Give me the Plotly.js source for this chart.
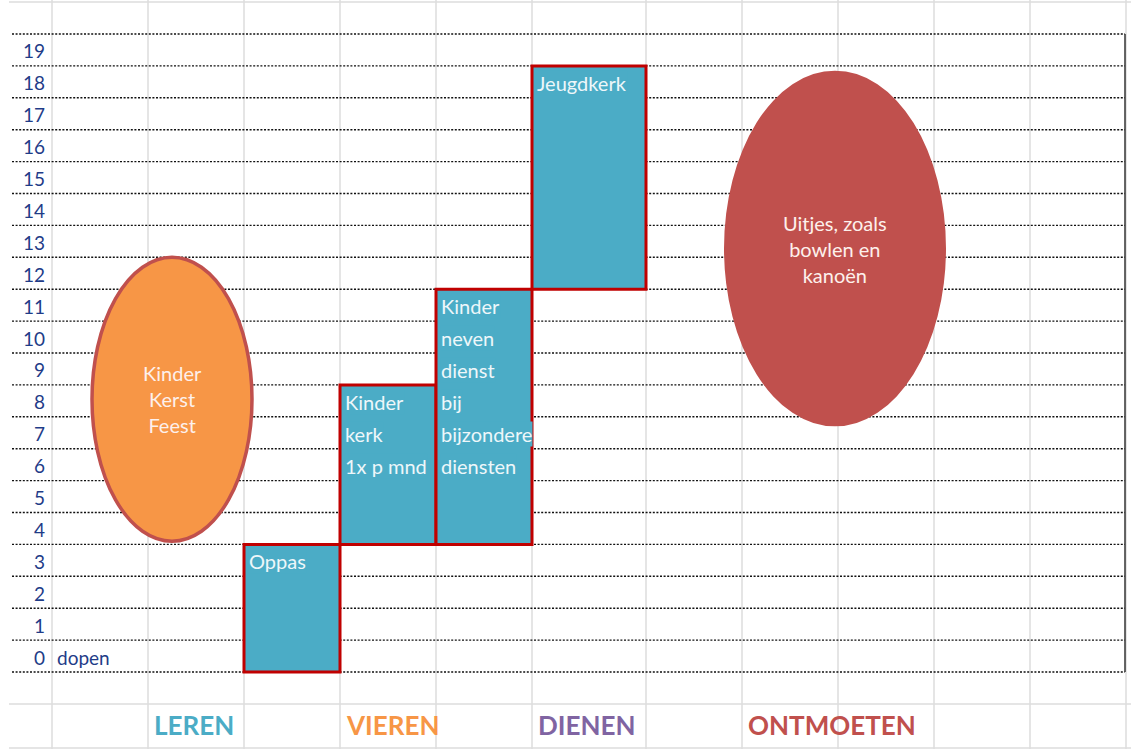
<!DOCTYPE html>
<html><head><meta charset="utf-8">
<script src="https://cdn.plot.ly/plotly-3.0.1.min.js"></script>
<style>html,body{margin:0;padding:0;background:#fff;overflow:hidden}</style>
</head><body><div id="chart" style="width:1131px;height:749px"></div>
<script>
// ---------- DATA ----------
const rowValues = [0,1,2,3,4,5,6,7,8,9,10,11,12,13,14,15,16,17,18,19];
const rowNoteValues = [0];
const rowNoteTexts = ['dopen'];

const categories = ['LEREN','VIEREN','DIENEN','ONTMOETEN'];
const categoryColumns = [2,4,6,8];

const activityLines = [
  ['Oppas'],
  ['Kinder','kerk','1x p mnd'],
  ['Kinder','neven','dienst','bij','bijzondere','diensten'],
  ['Jeugdkerk']
];
const activityColumns = [3,4,5,6];
const activityStart = [0,4,4,12];
const activityEnd = [4,9,12,19];

const eventLines = [['Kinder','Kerst','Feest'],['Uitjes, zoals','bowlen en','kanoën']];
const eventStart = [4.1, 7.7];
const eventEnd = [13.0, 18.85];

// ---------- LAYOUT / STYLE ----------
const colWidths = [52,96,96,96,96,96,114,96,96,96,96,96];
const colEdges = [0];
colWidths.forEach(w => colEdges.push(colEdges[colEdges.length-1] + w));
const eventXSpan = [[92,252],[724,946]];
const eventFill = ['#F79646','#C0504D'];
const eventLineColor = ['#C0504D','#C0504D'];
const eventLineWidth = [3.5,0];
const categoryColors = ['#4BACC6','#F79646','#8064A2','#C0504D'];
const FONT = 'Lato, "Open Sans", sans-serif';
const NAVY = '#1F3C88';
const Y_RANGE = [-2.414, 21.066];
const X_RANGE = [0, 1131];
const sheetTop = 21.0, catRowTop = -1.0, catRowBottom = -2.38;
const dotStart = 12, dotEnd = 1125;

const shapes = [];
colEdges.slice(1).forEach(x => shapes.push({type:'line', xref:'x', yref:'y', x0:x, x1:x, y0:Y_RANGE[0], y1:Y_RANGE[1], line:{color:'#DCDCDC', width:1.5}, layer:'below'}));
[sheetTop, catRowTop, catRowBottom].forEach(y => shapes.push({type:'line', xref:'x', yref:'y', x0:9, x1:1131, y0:y, y1:y, line:{color:'#DCDCDC', width:1.5}, layer:'below'}));
for (let k = 0; k <= rowValues.length; k++) {
  shapes.push({type:'line', xref:'x', yref:'y', x0:dotStart, x1:dotEnd, y0:k, y1:k, line:{color:'#111', width:1.4, dash:'2px,1.6px'}, layer:'below'});
}
shapes.push({type:'line', xref:'x', yref:'y', x0:dotEnd, x1:dotEnd, y0:0, y1:rowValues.length, line:{color:'#333', width:1.5}, layer:'below'});
eventStart.forEach((s,i) => shapes.push({type:'circle', xref:'x', yref:'y', x0:eventXSpan[i][0], x1:eventXSpan[i][1], y0:s, y1:eventEnd[i], fillcolor:eventFill[i], line:{color:eventLineColor[i], width:eventLineWidth[i]}, layer:'above'}));

const annotations = [];
rowValues.forEach(v => annotations.push({xref:'x', yref:'y', x:47, y:v+0.47, xanchor:'right', yanchor:'middle', text:String(v), showarrow:false, font:{family:FONT, size:19, color:NAVY}}));
rowNoteValues.forEach((v,i) => annotations.push({xref:'x', yref:'y', x:colEdges[1]+3, y:v+0.47, xanchor:'left', yanchor:'middle', text:rowNoteTexts[i], showarrow:false, font:{family:FONT, size:19, color:NAVY}}));
categories.forEach((c,i) => annotations.push({xref:'x', yref:'y', x:colEdges[categoryColumns[i]]+4, y:(catRowTop+catRowBottom)/2 + 0.02, xanchor:'left', yanchor:'middle', text:'<b>'+c+'</b>', showarrow:false, font:{family:FONT, size:26, color:categoryColors[i]}}));
activityLines.forEach((lines,i) => {
  lines.forEach((t,j) => annotations.push({xref:'x', yref:'y', x:colEdges[activityColumns[i]]+4, y:activityEnd[i]-1-j+0.47, xanchor:'left', yanchor:'middle', text:t, showarrow:false, bgcolor:'#4BACC6', borderpad:0, font:{family:FONT, size:20, color:'#EEF7FA'}}));
});
eventLines.forEach((lines,i) => annotations.push({xref:'x', yref:'y', x:(eventXSpan[i][0]+eventXSpan[i][1])/2, y:(eventStart[i]+eventEnd[i])/2, xanchor:'center', yanchor:'middle', text:lines.join('<br>'), showarrow:false, font:{family:FONT, size:20, color:'#FDF0EC'}}));

const boxTrace = {
  type:'bar',
  x: activityColumns.map(c => (colEdges[c]+colEdges[c+1])/2),
  width: activityColumns.map(c => colWidths[c]),
  base: activityStart,
  y: activityStart.map((s,i) => activityEnd[i]-s),
  marker:{color:'#4BACC6', line:{color:'#C00000', width:3}},
  hoverinfo:'skip', showlegend:false
};

Plotly.newPlot('chart', [boxTrace], {
  width:1131, height:749,
  margin:{l:0,r:0,t:0,b:0,pad:0},
  paper_bgcolor:'#fff', plot_bgcolor:'#fff',
  showlegend:false, barmode:'overlay',
  xaxis:{range:X_RANGE, visible:false, fixedrange:true},
  yaxis:{range:Y_RANGE, visible:false, fixedrange:true},
  shapes, annotations
}, {staticPlot:true, displayModeBar:false});
</script></body></html>
